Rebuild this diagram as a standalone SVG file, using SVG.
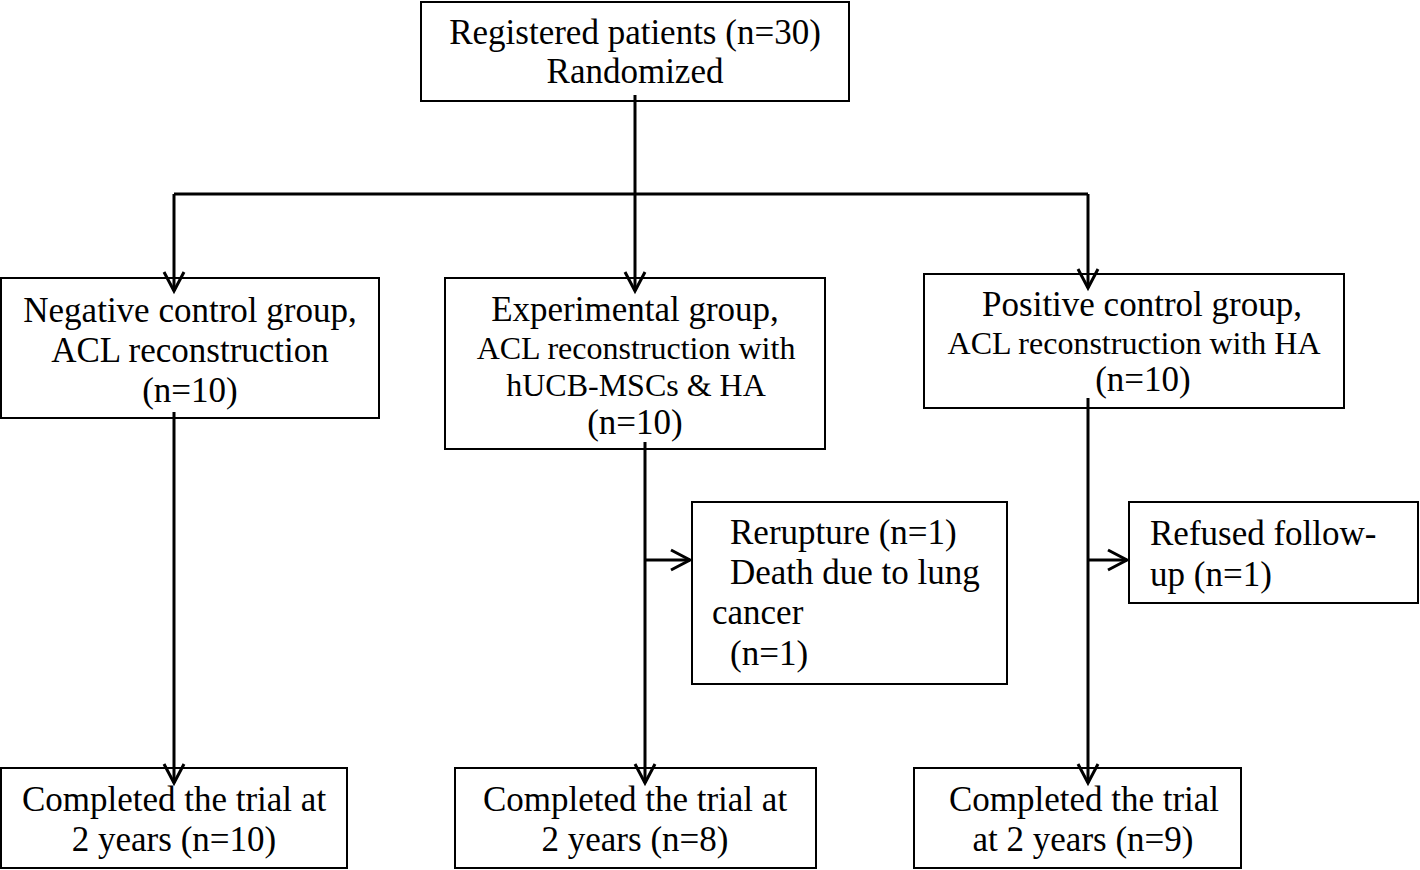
<svg xmlns="http://www.w3.org/2000/svg" width="1420" height="870" viewBox="0 0 1420 870">
<style>
  .box { fill: #ffffff; stroke: #000000; stroke-width: 2; }
  .t { font-family: "Liberation Serif", "Times New Roman", serif; font-size: 35px; fill: #000000; }
  .s { font-size: 32px; }
  .m { text-anchor: middle; }
  .c { fill: none; stroke: #000000; stroke-width: 3; }
</style>
<defs>
  <marker id="arr" markerUnits="userSpaceOnUse" markerWidth="26" markerHeight="26" refX="20" refY="11" orient="auto" viewBox="0 0 26 22">
    <path d="M1,1 L20,11 L1,21" fill="none" stroke="#000000" stroke-width="3"/>
  </marker>
</defs>
<rect width="1420" height="870" fill="#ffffff"/>

<g id="registered">
  <rect class="box" x="421" y="2" width="428" height="99"/>
  <text class="t m" x="635" y="44">Registered patients (n=30)</text>
  <text class="t m" x="635" y="83">Randomized</text>
</g>

<g id="negative">
  <rect class="box" x="1" y="278" width="378" height="140"/>
  <text class="t m" x="190" y="322">Negative control group,</text>
  <text class="t m" x="190" y="362">ACL reconstruction</text>
  <text class="t m" x="190" y="402">(n=10)</text>
</g>

<g id="experimental">
  <rect class="box" x="445" y="278" width="380" height="171"/>
  <text class="t m" x="635" y="321">Experimental group,</text>
  <text class="t s m" x="636" y="359">ACL reconstruction with</text>
  <text class="t s m" x="636" y="396">hUCB-MSCs &amp; HA</text>
  <text class="t m" x="635" y="434">(n=10)</text>
</g>

<g id="positive">
  <rect class="box" x="924" y="274" width="420" height="134"/>
  <text class="t m" x="1142" y="316">Positive control group,</text>
  <text class="t s m" x="1134" y="354">ACL reconstruction with HA</text>
  <text class="t m" x="1143" y="391">(n=10)</text>
</g>

<g id="excluded-exp">
  <rect class="box" x="692" y="502" width="315" height="182"/>
  <text class="t" x="730" y="544">Rerupture (n=1)</text>
  <text class="t" x="730" y="584">Death due to lung</text>
  <text class="t" x="712" y="624">cancer</text>
  <text class="t" x="730" y="665">(n=1)</text>
</g>

<g id="excluded-pos">
  <rect class="box" x="1129" y="502" width="289" height="101"/>
  <text class="t" x="1150" y="545">Refused follow-</text>
  <text class="t" x="1150" y="586">up (n=1)</text>
</g>

<g id="completed-neg">
  <rect class="box" x="1" y="768" width="346" height="100"/>
  <text class="t m" x="174" y="811">Completed the trial at</text>
  <text class="t m" x="174" y="851">2 years (n=10)</text>
</g>

<g id="completed-exp">
  <rect class="box" x="455" y="768" width="361" height="100"/>
  <text class="t m" x="635" y="811">Completed the trial at</text>
  <text class="t m" x="635" y="851">2 years (n=8)</text>
</g>

<g id="completed-pos">
  <rect class="box" x="914" y="768" width="327" height="100"/>
  <text class="t m" x="1084" y="811">Completed the trial</text>
  <text class="t m" x="1083" y="851">at 2 years (n=9)</text>
</g>

<g id="connectors">
  <path class="c" d="M635,95 V194"/>
  <path class="c" d="M174,194 H1088"/>
  <path class="c" d="M174,194 V291" marker-end="url(#arr)"/>
  <path class="c" d="M635,194 V291" marker-end="url(#arr)"/>
  <path class="c" d="M1088,194 V288" marker-end="url(#arr)"/>
  <path class="c" d="M174,412 V783" marker-end="url(#arr)"/>
  <path class="c" d="M645,442 V783" marker-end="url(#arr)"/>
  <path class="c" d="M1088,398 V783" marker-end="url(#arr)"/>
  <path class="c" d="M645,560 H690" marker-end="url(#arr)"/>
  <path class="c" d="M1088,560 H1127" marker-end="url(#arr)"/>
</g>
</svg>
